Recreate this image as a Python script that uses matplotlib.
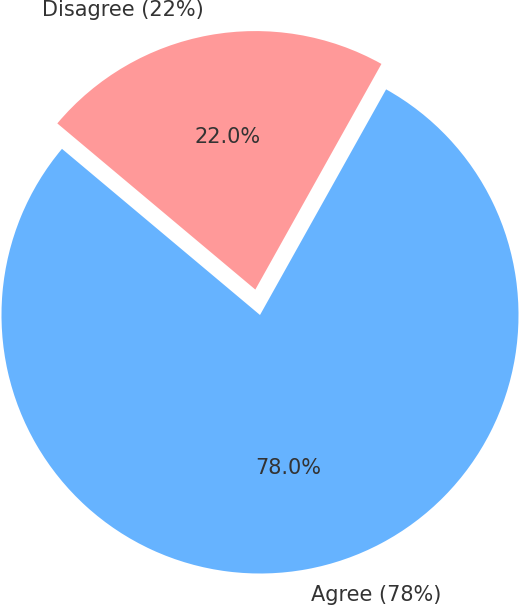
import matplotlib
matplotlib.use("Agg")
import matplotlib.pyplot as plt

labels = ["Agree (78%)", "Disagree (22%)"]
values = [78, 22]
colors = ["#66b3ff", "#ff9999"]
explode = [0, 0.1]

fig = plt.figure(figsize=(5.2, 6.07), dpi=100)
ax = fig.add_axes([0, 0, 1, 1])
wedges, texts, autotexts = ax.pie(
    values, labels=labels, colors=colors, explode=explode,
    autopct="%1.1f%%", startangle=140,
    textprops={"fontsize": 15, "color": "#333333"},
)
ax.set_aspect("auto")
ax.set_xlim(-260 / 258.5, 260 / 258.5)
ax.set_ylim(-292 / 258.5, 315 / 258.5)
ax.axis("off")
fig.savefig("out.png", dpi=100)
